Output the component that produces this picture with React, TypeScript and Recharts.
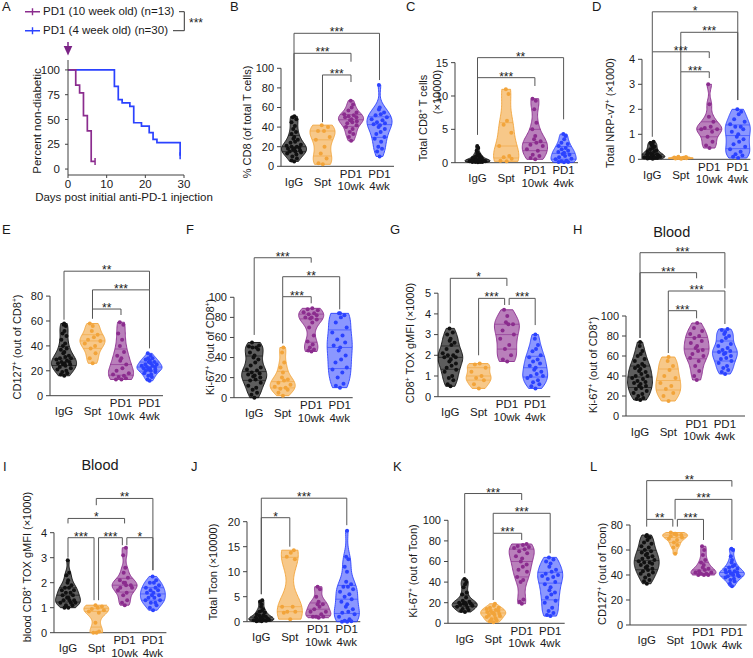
import React from "react";
import { ComposedChart, Scatter, Line, XAxis, YAxis, ReferenceDot } from "recharts";

const FONT = "'Liberation Sans', Arial, Helvetica, sans-serif";
const INK = "#1a1a1a";
const AXIS = "#404040";
const BRK = "#555555";

const categories = ["IgG", "Spt", "PD1\n10wk", "PD1\n4wk"];
const groupColors = ["#111111", "#F2A43A", "#8B2C8E", "#2B42FF"];
const groupFillOpacity = [0.68, 0.6, 0.6, 0.55];

// A: survival after anti-PD-1
const kmDays10wk = [0, 2, 3, 4, 5, 6, 7];
const kmSurv10wk = [100, 84.6, 76.9, 53.8, 38.5, 7.7, 7.7];
const kmDays4wk = [0, 12, 13, 14, 16, 17, 19, 21, 22, 23, 29];
const kmSurv4wk = [100, 83.3, 70, 66.7, 63.3, 46.7, 43.3, 36.7, 30, 26.7, 13.3];

// B: % CD8 of total T cells
const bIgG = [51, 50, 48, 45, 41, 38, 35, 33, 30, 28, 27, 25, 24, 22, 21, 20, 20, 19, 18, 18, 17, 16, 15, 15, 14, 13, 12, 10, 8, 6, 5];
const bSpt = [42, 40, 36, 36, 30, 27, 20, 13, 8, 3, 2];
const b10wk = [67, 63, 60, 57, 55, 53, 52, 51, 50, 50, 48, 47, 46, 45, 44, 42, 40, 38, 35, 33, 30, 26];
const b4wk = [83, 60, 58, 55, 53, 52, 50, 48, 47, 45, 44, 43, 42, 40, 38, 35, 33, 30, 28, 25, 20, 18, 15, 10];

// C: total CD8+ T cells (x10000)
const cIgG = [2.5, 2.2, 1.8, 1.5, 1.3, 1.2, 1.0, 0.9, 0.8, 0.7, 0.6, 0.5, 0.5, 0.4, 0.4, 0.3, 0.3, 0.3, 0.2, 0.2, 0.2, 0.1, 0.1, 0.1, 0.1, 0.05];
const cSpt = [11, 10.3, 6.3, 5.7, 4.5, 2.5, 1.0, 0.8, 0.6, 0.3, 0.2];
const c10wk = [9.6, 9.3, 8.0, 6.0, 5.0, 4.0, 3.5, 3.2, 3.0, 2.7, 2.5, 2.0, 1.8, 1.2, 1.0, 0.7, 0.5];
const c4wk = [4.3, 4.0, 3.5, 3.0, 2.8, 2.5, 2.2, 2.0, 1.8, 1.6, 1.5, 1.3, 1.2, 1.0, 0.8, 0.6, 0.5, 0.3, 0.2, 0.1, 0.1, 0.05];

// D: total NRP-v7+ (x1000)
const dIgG = [0.7, 0.65, 0.6, 0.55, 0.5, 0.45, 0.4, 0.35, 0.3, 0.3, 0.25, 0.2, 0.2, 0.2, 0.15, 0.15, 0.1, 0.1, 0.1, 0.08, 0.05, 0.05, 0.05, 0.03, 0.02];
const dSpt = [0.1, 0.09, 0.07, 0.06, 0.05, 0.04, 0.03, 0.02];
const d10wk = [3.0, 2.2, 1.7, 1.5, 1.3, 1.25, 1.2, 1.2, 1.1, 0.9, 0.7, 0.55, 0.45];
const d4wk = [2.0, 1.9, 1.8, 1.6, 1.5, 1.4, 1.3, 1.3, 1.2, 1.1, 1.0, 0.9, 0.8, 0.7, 0.6, 0.5, 0.4, 0.3, 0.2, 0.15, 0.1, 0.05];

// E: CD127+ (out of CD8+)
const eIgG = [58, 57, 56, 52, 50, 48, 45, 42, 40, 38, 37, 35, 34, 32, 31, 30, 30, 29, 28, 27, 27, 26, 26, 25, 25, 24, 23, 22, 21, 20, 19, 18, 17, 16];
const eSpt = [58, 56, 52, 49, 47, 45, 44, 42, 40, 38, 34, 30, 26];
const e10wk = [59, 57, 50, 45, 40, 35, 32, 30, 28, 25, 22, 20, 18, 17, 16, 15, 14, 13, 13];
const e4wk = [34, 32, 30, 30, 29, 28, 27, 27, 26, 25, 25, 24, 24, 23, 23, 22, 22, 21, 21, 20, 20, 19, 18, 17, 16, 15, 13, 12];

// F: Ki-67+ (out of CD8+)
const fIgG = [55, 52, 51, 50, 50, 48, 45, 42, 40, 38, 35, 32, 30, 28, 27, 25, 24, 23, 22, 21, 20, 18, 17, 15, 12, 10, 8, 5, 3, 0];
const fSpt = [50, 45, 35, 30, 25, 20, 18, 17, 15, 13, 11, 10, 9, 8, 5, 2];
const f10wk = [89, 88, 87, 85, 84, 83, 82, 80, 80, 79, 78, 75, 70, 62, 56, 53, 50, 48, 47, 46];
const f4wk = [84, 84, 82, 80, 75, 70, 65, 62, 58, 55, 52, 50, 47, 42, 38, 35, 30, 28, 25, 20, 14, 12, 10];

// G: CD8+ TOX gMFI (x1000)
const gIgG = [3.3, 3.1, 3.0, 2.8, 2.7, 2.6, 2.5, 2.3, 2.2, 2.1, 2.0, 2.0, 1.9, 1.9, 1.8, 1.7, 1.6, 1.5, 1.4, 1.3, 1.2, 1.0, 0.9, 0.8, 0.6, 0.5];
const gSpt = [1.6, 1.55, 1.4, 1.2, 1.0, 0.9, 0.8, 0.6, 0.4];
const g10wk = [4.2, 3.9, 3.6, 3.5, 3.5, 3.2, 3.0, 2.8, 2.5, 2.3, 2.0, 1.8, 1.7];
const g4wk = [3.0, 2.8, 2.5, 2.3, 2.2, 2.0, 1.9, 1.8, 1.7, 1.6, 1.5, 1.4, 1.3, 1.2, 1.1, 1.0, 1.0, 0.9, 0.8, 0.7, 0.6, 0.5, 0.4];

// H: blood Ki-67+ (out of CD8+)
const hIgG = [74, 70, 65, 62, 60, 57, 55, 52, 50, 50, 48, 47, 45, 44, 42, 40, 40, 38, 37, 35, 34, 33, 32, 30, 30, 28, 27, 25, 23, 22, 20, 18, 17, 16];
const hSpt = [59, 55, 50, 46, 40, 38, 33, 30, 27, 23, 20, 15];
const h10wk = [93, 88, 85, 82, 80, 78, 75, 73, 70, 68, 66, 65, 62, 60, 58, 55, 50, 45, 40, 36];
const h4wk = [87, 86, 84, 82, 80, 78, 75, 72, 70, 68, 66, 65, 64, 63, 62, 60, 58, 57, 55, 53, 50, 48, 46, 44, 42];

// I: blood CD8+ TOX gMFI (x1000)
const iIgG = [2.9, 2.4, 2.3, 2.1, 2.0, 1.9, 1.8, 1.8, 1.7, 1.7, 1.6, 1.6, 1.5, 1.5, 1.4, 1.4, 1.3, 1.3, 1.3, 1.2, 1.2, 1.2, 1.1, 1.1, 1.0, 1.0];
const iSpt = [1.1, 1.05, 1.0, 0.95, 0.9, 0.85, 0.8, 0.4, 0.05, 0.0, 0.0];
const i10wk = [3.4, 3.1, 2.6, 2.4, 2.2, 2.1, 2.0, 2.0, 1.9, 1.9, 1.8, 1.8, 1.7, 1.6, 1.5, 1.3, 1.2, 1.1];
const i4wk = [2.25, 2.1, 2.0, 2.0, 1.9, 1.8, 1.8, 1.7, 1.7, 1.6, 1.6, 1.5, 1.5, 1.4, 1.4, 1.3, 1.3, 1.2, 1.2, 1.1, 1.0, 0.9];

// J: total Tcon (x10000)
const jIgG = [4.3, 4.0, 3.5, 3.0, 2.5, 2.2, 2.0, 1.8, 1.5, 1.3, 1.2, 1.0, 0.9, 0.8, 0.7, 0.6, 0.5, 0.5, 0.4, 0.3, 0.3, 0.2, 0.2, 0.1, 0.1];
const jSpt = [14.3, 13.8, 13.0, 12.5, 3.0, 3.0, 2.0, 2.0, 1.8, 0.5];
const j10wk = [7.0, 6.5, 5.0, 4.0, 3.5, 3.5, 3.0, 2.5, 2.0, 2.0, 1.5, 1.0, 1.0, 1.0, 0.8];
const j4wk = [18.2, 13.0, 12.5, 11.0, 10.0, 8.0, 7.5, 7.0, 7.0, 6.5, 6.0, 5.5, 5.0, 4.5, 4.0, 3.5, 3.0, 2.5, 2.0, 1.8, 1.5, 1.0, 0.5, 0.2, 0.1, 0.0, 0.0];

// K: Ki-67+ (out of Tcon)
const kIgG = [43, 40, 38, 35, 30, 28, 25, 22, 21, 20, 20, 19, 19, 18, 18, 17, 16, 15, 14, 13, 12, 11];
const kSpt = [19, 17, 15, 15, 14, 13, 12, 12, 11, 10, 10, 9, 8, 8, 7, 6, 5, 4, 3, 2, 1];
const k10wk = [77, 76, 75, 74, 73, 72, 70, 68, 65, 63, 60, 57, 55, 52, 50, 45, 42, 40, 23, 21, 19];
const k4wk = [64, 62, 60, 58, 55, 52, 50, 48, 47, 46, 45, 43, 40, 38, 35, 32, 30, 28, 25, 22, 20, 15, 12, 10, 8, 7];

// L: CD127+ (out of Tcon)
const lIgG = [72, 71, 70, 68, 66, 65, 63, 62, 60, 59, 58, 57, 56, 55, 54, 53, 52, 51, 50, 50, 49, 48, 47, 46, 45, 44, 43, 42, 41, 40, 38, 36, 35, 33];
const lSpt = [74, 73, 73, 72, 72, 71, 70, 69, 68, 66, 64, 62, 57];
const l10wk = [63, 60, 56, 52, 50, 48, 46, 45, 44, 43, 42, 42, 41, 41, 40, 40, 40];
const l4wk = [61, 60, 55, 52, 50, 48, 47, 46, 45, 44, 43, 43, 42, 42, 41, 41, 40, 40, 39, 39, 38, 37, 36, 35, 33, 31];

type Bracket = { a: number; b: number; y: number; ya: number; yb: number; label: string; ao?: number; bo?: number };
type Panel = {
  id: string;
  data: number[][];
  ticks: number[];
  axisX: number;
  y0: number;
  k: number;
  c0: number;
  s: number;
  xRight: number;
  top: number;
  brackets: Bracket[];
};

const panels: Panel[] = [
  {
    id: "B", data: [bIgG, bSpt, b10wk, b4wk], ticks: [0, 20, 40, 60, 80, 100],
    axisX: 281, y0: 166.3, k: 0.98, c0: 294, s: 28.5, xRight: 394, top: 18,
    brackets: [
      { a: 0, b: 3, y: 135.7, ya: 57, yb: 88, label: "***" },
      { a: 0, b: 2, y: 115.3, ya: 57, yb: 106.7, label: "***" },
      { a: 1, b: 2, y: 93.2, ya: 45, yb: 86, label: "***" },
    ],
  },
  {
    id: "C", data: [cIgG, cSpt, c10wk, c4wk], ticks: [0, 5, 10, 15],
    axisX: 455, y0: 162.7, k: 6.67, c0: 477.5, s: 28.7, xRight: 578, top: 40,
    brackets: [
      { a: 0, b: 3, y: 15.75, ya: 4.2, yb: 6.5, label: "**" },
      { a: 0, b: 2, y: 12.75, ya: 4.2, yb: 11.5, label: "***" },
    ],
  },
  {
    id: "D", data: [dIgG, dSpt, d10wk, d4wk], ticks: [0, 1, 2, 3, 4],
    axisX: 641.7, y0: 159.3, k: 25, c0: 652, s: 28.5, xRight: 750, top: 0,
    brackets: [
      { a: 0, b: 3, y: 5.9, ya: 4.3, yb: 2.37, label: "*" },
      { a: 1, b: 3, y: 5.08, ya: 3.5, yb: 2.37, label: "***" },
      { a: 0, b: 2, y: 4.3, ya: 0.9, yb: 4.05, label: "***" },
      { a: 1, b: 2, y: 3.5, ya: 0.25, yb: 3.25, label: "***" },
    ],
  },
  {
    id: "E", data: [eIgG, eSpt, e10wk, e4wk], ticks: [0, 20, 40, 60, 80],
    axisX: 50, y0: 395.7, k: 1.245, c0: 64, s: 28.5, xRight: 163, top: 252,
    brackets: [
      { a: 0, b: 3, y: 100, ya: 61, yb: 85, label: "**" },
      { a: 1, b: 3, y: 85, ya: 62, yb: 38, label: "***" },
      { a: 1, b: 2, y: 69.6, ya: 62, yb: 64.8, label: "**" },
    ],
  },
  {
    id: "F", data: [fIgG, fSpt, f10wk, f4wk], ticks: [0, 20, 40, 60, 80, 100],
    axisX: 234.3, y0: 397.7, k: 1.004, c0: 254.5, s: 28.5, xRight: 353, top: 245,
    brackets: [
      { a: 0, b: 2, y: 139.4, ya: 62.5, yb: 134.5, label: "***" },
      { a: 1, b: 3, y: 120.5, ya: 100.6, yb: 88, label: "**" },
      { a: 1, b: 2, y: 100.6, ya: 54, yb: 94, label: "***" },
    ],
  },
  {
    id: "G", data: [gIgG, gSpt, g10wk, g4wk], ticks: [0, 1, 2, 3, 4, 5],
    axisX: 437.7, y0: 396.7, k: 20.7, c0: 450, s: 28.3, xRight: 550, top: 262,
    brackets: [
      { a: 0, b: 2, y: 5.72, ya: 3.55, yb: 5.35, label: "*" },
      { a: 1, b: 2, y: 4.75, ya: 2.0, yb: 4.43, label: "***", bo: -0.08 },
      { a: 2, b: 3, y: 4.75, ya: 4.43, yb: 3.46, label: "***", ao: 0.08 },
    ],
  },
  {
    id: "H", data: [hIgG, hSpt, h10wk, h4wk], ticks: [0, 20, 40, 60, 80, 100],
    axisX: 626, y0: 416, k: 1.0, c0: 640, s: 28.3, xRight: 745, top: 240,
    brackets: [
      { a: 0, b: 3, y: 163.3, ya: 78, yb: 127.7, label: "***" },
      { a: 0, b: 2, y: 143.3, ya: 78, yb: 137.7, label: "***" },
      { a: 1, b: 3, y: 125, ya: 105.3, yb: 92, label: "***" },
      { a: 1, b: 2, y: 105.3, ya: 63, yb: 97.7, label: "***" },
    ],
  },
  {
    id: "I", data: [iIgG, iSpt, i10wk, i4wk], ticks: [0, 1, 2, 3, 4],
    axisX: 54.3, y0: 632.7, k: 25, c0: 68.3, s: 28.3, xRight: 166.7, top: 486,
    brackets: [
      { a: 1, b: 3, y: 5.37, ya: 5.1, yb: 2.5, label: "**" },
      { a: 0, b: 2, y: 4.57, ya: 4.37, yb: 4.37, label: "*" },
      { a: 0, b: 1, y: 3.8, ya: 3.0, yb: 1.3, label: "***", bo: -0.08 },
      { a: 1, b: 2, y: 3.8, ya: 1.3, yb: 3.5, label: "***", ao: 0.08, bo: -0.08 },
      { a: 2, b: 3, y: 3.8, ya: 3.5, yb: 2.5, label: "*", ao: 0.08 },
    ],
  },
  {
    id: "J", data: [jIgG, jSpt, j10wk, j4wk], ticks: [0, 5, 10, 15, 20],
    axisX: 246.7, y0: 621.7, k: 5, c0: 261, s: 28.5, xRight: 360, top: 490,
    brackets: [
      { a: 0, b: 3, y: 24.7, ya: 5.5, yb: 19.3, label: "***" },
      { a: 0, b: 1, y: 20.8, ya: 5.5, yb: 15, label: "*" },
    ],
  },
  {
    id: "K", data: [kIgG, kSpt, k10wk, k4wk], ticks: [0, 20, 40, 60, 80, 100],
    axisX: 448.3, y0: 623.3, k: 1.03, c0: 465, s: 28.5, xRight: 565, top: 485,
    brackets: [
      { a: 0, b: 2, y: 126, ya: 48.5, yb: 119.7, label: "***" },
      { a: 1, b: 3, y: 106.8, ya: 87.4, yb: 68, label: "***" },
      { a: 1, b: 2, y: 87.4, ya: 22.6, yb: 80.9, label: "***" },
    ],
  },
  {
    id: "L", data: [lIgG, lSpt, l10wk, l4wk], ticks: [0, 20, 40, 60, 80],
    axisX: 630, y0: 625, k: 1.25, c0: 646.7, s: 28.4, xRight: 746.7, top: 470,
    brackets: [
      { a: 0, b: 3, y: 115.5, ya: 84.5, yb: 110.7, label: "**" },
      { a: 1, b: 3, y: 100.5, ya: 84.5, yb: 68, label: "***" },
      { a: 0, b: 1, y: 84.5, ya: 78.7, yb: 78.7, label: "**", bo: -0.08 },
      { a: 1, b: 2, y: 84.5, ya: 78.7, yb: 68, label: "***", ao: 0.08 },
    ],
  },
];

const letters = [
  { t: "A", x: 2, y: 0 }, { t: "B", x: 230, y: 0 }, { t: "C", x: 406, y: 0 }, { t: "D", x: 592, y: 0 },
  { t: "E", x: 2, y: 223 }, { t: "F", x: 186, y: 223 }, { t: "G", x: 390, y: 223 }, { t: "H", x: 573, y: 223 },
  { t: "I", x: 3, y: 460 }, { t: "J", x: 191, y: 460 }, { t: "K", x: 393, y: 460 }, { t: "L", x: 590, y: 460 },
];

const Plus = () => <sup style={{ fontSize: "0.6em", verticalAlign: "0.55em", lineHeight: 0 }}>+</sup>;

function quantile(s: number[], p: number) {
  const pos = (s.length - 1) * p;
  const lo = Math.floor(pos);
  const hi = Math.ceil(pos);
  return s[lo] + (s[hi] - s[lo]) * (pos - lo);
}

const JIT = [0.05, -0.6, 0.55, -0.25, 0.3, -0.8, 0.78, -0.45, 0.15, 0.62, -0.1];

function violinModel(vals: number[], center: number, halfMax: number, xMin: number) {
  const s = [...vals].sort((a, b) => a - b);
  const n = s.length;
  const mean = s.reduce((a, b) => a + b, 0) / n;
  const sd = Math.sqrt(s.reduce((a, b) => a + (b - mean) ** 2, 0) / (n - 1));
  const iqr = quantile(s, 0.75) - quantile(s, 0.25);
  const spread = Math.min(sd, iqr > 0 ? iqr / 1.34 : sd) || s[n - 1] - s[0] || 1;
  const bw = 0.8 * spread * Math.pow(n, -0.2);
  const dens = (y: number) => s.reduce((acc, v) => acc + Math.exp(-0.5 * ((y - v) / bw) ** 2), 0);
  const lo = s[0];
  const hi = s[n - 1];
  const steps = 48;
  const ys = Array.from({ length: steps + 1 }, (_, i) => lo + ((hi - lo) * i) / steps);
  const dmax = Math.max(...ys.map(dens));
  const w = (y: number) => (halfMax * dens(y)) / dmax;
  const clampX = (x: number) => Math.max(xMin + 0.01, x);
  const right = ys.map((y) => ({ x: center + w(y), y }));
  const left = ys.map((y) => ({ x: clampX(center - w(y)), y })).reverse();
  const outline = [...right, ...left];
  const qLines = [0.25, 0.5, 0.75].map((p) => {
    const q = quantile(s, p);
    return [{ x: clampX(center - w(q)), y: q }, { x: center + w(q), y: q }];
  });
  const dots = s.map((v, i) => ({ x: clampX(center + JIT[i % JIT.length] * w(v) * 0.8), y: v }));
  return { outline, qLines, dots };
}

function Poly(props: any) {
  const pts: { x: number; y: number }[] = props.points || [];
  if (!pts.length) return null;
  const d = pts.map((p, i) => `${i ? "L" : "M"}${p.x.toFixed(2)},${p.y.toFixed(2)}`).join("") + (props.closed ? "Z" : "");
  return (
    <path
      d={d}
      fill={props.vFill || "none"}
      fillOpacity={props.vFillOpacity ?? 1}
      stroke={props.vStroke || "none"}
      strokeOpacity={props.vStrokeOpacity ?? 1}
      strokeWidth={props.vWidth ?? 1}
      strokeLinejoin="round"
    />
  );
}

const noShape = () => <g />;
const dotShape = (color: string) => (p: any) => <circle cx={p.cx} cy={p.cy} r={2} fill={color} />;
const starShape = (p: any) => (
  <text x={p.cx} y={p.cy + 3} textAnchor="middle" fontSize={12} fill="#222" fontFamily={FONT}>
    {p.payload.label}
  </text>
);

function CatTick(props: any) {
  const { x, y, payload } = props;
  const lines = categories[payload.value].split("\n");
  if (lines.length === 1) {
    return (
      <text x={x} y={y + 19.5} textAnchor="middle" fontSize={11.5} fill={INK} fontFamily={FONT}>
        {lines[0]}
      </text>
    );
  }
  return (
    <g>
      {lines.map((l, i) => (
        <text key={i} x={x} y={y + 11.5 + 12.5 * i} textAnchor="middle" fontSize={11.5} fill={INK} fontFamily={FONT}>
          {l}
        </text>
      ))}
    </g>
  );
}

function bracketPts(b: Bracket) {
  const xa = b.a + (b.ao ?? 0);
  const xb = b.b + (b.bo ?? 0);
  return [{ x: xa, y: b.ya }, { x: xa, y: b.y }, { x: xb, y: b.y }, { x: xb, y: b.yb }];
}

function ViolinPanel({ p }: { p: Panel }) {
  const YW = 34;
  const XH = 25;
  const MR = 3;
  const chartLeft = p.axisX - YW;
  const width = p.xRight - chartLeft + MR;
  const height = p.y0 - p.top + XH;
  const ymax = (p.y0 - p.top) / p.k;
  const xMin = -(p.c0 - p.axisX) / p.s;
  const xMax = (p.xRight - p.c0) / p.s;
  const topTick = p.ticks[p.ticks.length - 1];
  const models = p.data.map((vals, g) => violinModel(vals, g, 0.44, xMin));
  const labels = p.brackets.map((b) => ({
    x: (b.a + (b.ao ?? 0) + b.b + (b.bo ?? 0)) / 2,
    y: b.y,
    label: b.label,
  }));
  return (
    <div style={{ position: "absolute", left: chartLeft, top: p.top }}>
      <ComposedChart width={width} height={height} margin={{ top: 0, right: MR, bottom: 0, left: 0 }} style={{ overflow: "visible" }}>
        <XAxis
          type="number"
          dataKey="x"
          domain={[xMin, xMax]}
          ticks={[0, 1, 2, 3]}
          interval={0}
          tick={<CatTick />}
          tickLine={false}
          tickSize={0}
          tickMargin={0}
          height={XH}
          axisLine={{ stroke: AXIS, strokeWidth: 1 }}
        />
        <YAxis
          type="number"
          dataKey="y"
          domain={[0, ymax]}
          ticks={p.ticks}
          interval={0}
          width={YW}
          axisLine={false}
          tickLine={{ stroke: AXIS }}
          tickSize={4}
          tickMargin={3}
          tick={{ fontSize: 11, fill: INK, fontFamily: FONT }}
        />
        <Scatter
          data={[{ x: xMin, y: 0 }, { x: xMin, y: topTick }]}
          line={<Poly vStroke={AXIS} vWidth={1} />}
          lineType="joint"
          shape={noShape}
          isAnimationActive={false}
        />
        {models.map((m, g) => (
          <Scatter
            key={`v${g}`}
            data={m.outline}
            line={<Poly closed vFill={groupColors[g]} vFillOpacity={groupFillOpacity[g]} vStroke={groupColors[g]} vWidth={0.9} />}
            lineType="joint"
            shape={noShape}
            isAnimationActive={false}
          />
        ))}
        {models.flatMap((m, g) =>
          m.qLines.map((seg, j) => (
            <Scatter
              key={`q${g}-${j}`}
              data={seg}
              line={<Poly vStroke={groupColors[g]} vStrokeOpacity={0.85} vWidth={0.7} />}
              lineType="joint"
              shape={noShape}
              isAnimationActive={false}
            />
          ))
        )}
        {models.map((m, g) => (
          <Scatter key={`d${g}`} data={m.dots} shape={dotShape(groupColors[g])} isAnimationActive={false} />
        ))}
        {p.brackets.map((b, i) => (
          <Scatter
            key={`b${i}`}
            data={bracketPts(b)}
            line={<Poly vStroke={BRK} vWidth={1} />}
            lineType="joint"
            shape={noShape}
            isAnimationActive={false}
          />
        ))}
        <Scatter data={labels} shape={starShape} isAnimationActive={false} />
      </ComposedChart>
    </div>
  );
}

const km10 = kmDays10wk.map((d, i) => ({ x: d, y: kmSurv10wk[i] }));
const km4 = kmDays4wk.map((d, i) => ({ x: d, y: kmSurv4wk[i] }));

const censorDot = (color: string, last: number) => (p: any) =>
  p.index === last ? (
    <path key={p.index} d={`M${p.cx},${p.cy - 3.5}V${p.cy + 3.5}`} stroke={color} strokeWidth={1.5} />
  ) : (
    <g key={p.index} />
  );

const arrowShape = (p: any) => (
  <g>
    <path d={`M${p.cx},${p.cy - 18}V${p.cy - 13}`} stroke="#7B2386" strokeWidth={1.5} />
    <path d={`M${p.cx - 4.3},${p.cy - 14}L${p.cx + 4.3},${p.cy - 14}L${p.cx},${p.cy - 4.5}Z`} fill="#7B2386" />
  </g>
);

function SurvivalPanel() {
  const chartLeft = 28.3;
  const top = 30;
  return (
    <>
      <div style={{ position: "absolute", left: chartLeft, top }}>
        <ComposedChart width={164} height={173} margin={{ top: 30, right: 8, bottom: 0, left: 0 }}>
          <XAxis
            type="number"
            dataKey="x"
            domain={[0, 30]}
            ticks={[0, 10, 20, 30]}
            interval={0}
            height={28}
            tickSize={3}
            tickMargin={2}
            axisLine={{ stroke: AXIS }}
            tickLine={{ stroke: AXIS }}
            tick={{ fontSize: 11.5, fill: INK, fontFamily: FONT }}
          />
          <YAxis
            type="number"
            dataKey="y"
            domain={[-6, 110]}
            ticks={[0, 25, 50, 75, 100]}
            interval={0}
            width={40}
            tickSize={3}
            tickMargin={5}
            axisLine={{ stroke: AXIS }}
            tickLine={{ stroke: AXIS }}
            tick={{ fontSize: 11.5, fill: INK, fontFamily: FONT }}
          />
          <Line
            data={km4}
            dataKey="y"
            type="stepAfter"
            stroke="#2B42FF"
            strokeWidth={1.7}
            dot={censorDot("#2B42FF", km4.length - 1)}
            isAnimationActive={false}
          />
          <Line
            data={km10}
            dataKey="y"
            type="stepAfter"
            stroke="#8B2C8E"
            strokeWidth={1.7}
            dot={censorDot("#8B2C8E", km10.length - 1)}
            isAnimationActive={false}
          />
          <ReferenceDot x={0} y={110} r={0} shape={arrowShape} />
        </ComposedChart>
      </div>
      <svg style={{ position: "absolute", left: 0, top: 0 }} width={220} height={45}>
        <path d="M25,11.7H40M32.5,8.2V15.2" stroke="#8B2C8E" strokeWidth={1.4} fill="none" />
        <path d="M25,30.7H40M32.5,27.2V34.2" stroke="#2B42FF" strokeWidth={1.4} fill="none" />
        <path d="M179,11.7H184.3V30.7H173" stroke="#333" strokeWidth={1} fill="none" />
        <text x={189} y={27} fontSize={12} fill="#222" fontFamily={FONT}>***</text>
      </svg>
      <div style={{ position: "absolute", left: 43, top: 2.3, fontSize: 11.5, lineHeight: "19px", color: INK, whiteSpace: "nowrap" }}>
        <div>PD1 (10 week old) (n=13)</div>
        <div>PD1 (4 week old) (n=30)</div>
      </div>
      <div style={{ position: "absolute", left: 124, top: 197, transform: "translate(-50%,-50%)", fontSize: 11.5, color: INK, whiteSpace: "nowrap" }}>
        Days post initial anti-PD-1 injection
      </div>
      <VLabel x={37.5} y={121} size={11.5}>Percent non-diabetic</VLabel>
    </>
  );
}

function VLabel({ x, y, size = 11, children }: { x: number; y: number; size?: number; children: React.ReactNode }) {
  return (
    <div
      style={{
        position: "absolute",
        left: x,
        top: y,
        transform: "translate(-50%,-50%) rotate(-90deg)",
        whiteSpace: "nowrap",
        fontSize: size,
        lineHeight: 1,
        color: INK,
      }}
    >
      {children}
    </div>
  );
}

function Title({ x, y, children }: { x: number; y: number; children: React.ReactNode }) {
  return (
    <div style={{ position: "absolute", left: x, top: y, transform: "translate(-50%,-50%)", fontSize: 14.5, color: INK, lineHeight: 1 }}>
      {children}
    </div>
  );
}

export default function App() {
  return (
    <div
      style={{
        position: "absolute",
        left: 0,
        top: 0,
        width: 753,
        height: 658,
        background: "#fff",
        fontFamily: FONT,
        overflow: "hidden",
      }}
    >
      <SurvivalPanel />
      {panels.map((p) => (
        <ViolinPanel key={p.id} p={p} />
      ))}
      {letters.map((l) => (
        <div key={l.t} style={{ position: "absolute", left: l.x, top: l.y, fontSize: 13, lineHeight: 1, color: INK }}>
          {l.t}
        </div>
      ))}
      <VLabel x={247} y={122}>% CD8 (of total T cells)</VLabel>
      <VLabel x={423.3} y={118}>Total CD8<Plus /> T cells</VLabel>
      <VLabel x={436.7} y={92}>(×10000)</VLabel>
      <VLabel x={610} y={112.5}>Total NRP-v7<Plus /> (×1000)</VLabel>
      <VLabel x={16.7} y={346.7}>CD127<Plus /> (out of CD8<Plus />)</VLabel>
      <VLabel x={210} y={346.5}>Ki-67<Plus /> (out of CD8<Plus />)</VLabel>
      <VLabel x={410} y={343.3}>CD8<Plus /> TOX gMFI (×1000)</VLabel>
      <VLabel x={593.3} y={365}>Ki-67<Plus /> (out of CD8<Plus />)</VLabel>
      <VLabel x={26.7} y={566.7}>blood CD8<Plus /> TOX gMFI (×1000)</VLabel>
      <VLabel x={213.3} y={571.7}>Total Tcon (×10000)</VLabel>
      <VLabel x={413.3} y={570.8}>Ki-67<Plus /> (out of Tcon)</VLabel>
      <VLabel x={601.7} y={574}>CD127<Plus /> (out of Tcon)</VLabel>
      <Title x={671.7} y={231.7}>Blood</Title>
      <Title x={100} y={465}>Blood</Title>
    </div>
  );
}
